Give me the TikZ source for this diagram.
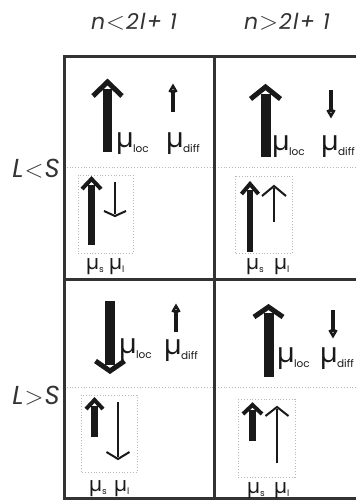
\documentclass[tikz,border=0pt]{standalone}
\usepackage{fontspec}
\setmainfont{Poppins}
\newfontfamily\headfont{Poppins}[LetterSpace=6]
\definecolor{ink}{gray}{0.1}
\definecolor{frame}{gray}{0.2}
\definecolor{dots}{gray}{0.72}
\newcommand{\mubig}[1]{{\fontsize{27}{27}\selectfont µ}\kern-0.5pt\raisebox{-5pt}{\fontsize{10.5}{10.5}\selectfont #1}}
\newcommand{\musmall}[1]{{\fontsize{20}{20}\selectfont µ}\raisebox{-3pt}{\fontsize{9}{9}\selectfont #1}}
\newcommand{\hrel}[1]{\kern1pt{\fontsize{24}{24}\selectfont $#1$}\kern1pt}
\newcommand{\rrel}[1]{\kern1pt{\fontsize{31}{31}\selectfont $#1$}\kern1pt}
% x, y start, y tip, shaft width, half head width, head length, head line width
\newcommand{\vecarr}[7]{%
  \pgfmathsetmacro{\vaS}{(#3>#2)?1:-1}%
  \pgfmathsetmacro{\vaB}{#3-\vaS*#6}%
  \pgfmathsetmacro{\vaE}{#3-\vaS*(#4/2*#6/#5+#7*0.5)}%
  \draw[ink, line width=#4] (#1,#2) -- (#1,\vaE);
  \draw[ink, line width=#7, line join=miter, miter limit=3] (#1-#5,\vaB) -- (#1,#3) -- (#1+#5,\vaB);
}
\begin{document}
\begin{tikzpicture}[x={(1pt,0)}, y={(0,-1pt)},
  gridline/.style={frame, line width=3pt},
  dotline/.style={dots, line width=0.8pt, dotted},
  lab/.style={inner sep=0pt, text=ink, anchor=base west},
  head/.style={inner sep=0pt, text=frame, font=\headfont\fontsize{22}{22}\selectfont\itshape},
  rowlab/.style={inner sep=0pt, text=frame, font=\headfont\fontsize{26}{26}\selectfont\itshape}]
\useasboundingbox[fill=white] (0,0) rectangle (356,501);
% headings
\node[head] (h1) at (134,22) {n\hrel{<}2l+ 1};
\node[head] (h2) at (287,22) {n\hrel{>}2l+ 1};
\node[rowlab] (r1) at (36,169) {L\rrel{<}S};
\node[rowlab] (r2) at (36,396) {L\rrel{>}S};
% dotted separators and boxes
\draw[dotline] (64,167) -- (356,167);
\draw[dotline] (64,387) -- (356,387);
\draw[dotline] (78,175) rectangle (133,253);
\draw[dotline] (235,176) rectangle (292,253);
\draw[dotline] (81,395) rectangle (137,472);
\draw[dotline] (238,399) rectangle (295,477);
% frame
\draw[gridline] (358,56) -- (64,56) -- (64,498) -- (358,498);
\draw[gridline] (214,56) -- (214,498);
\draw[gridline] (64,279) -- (358,279);
% top-left
\vecarr{107.5}{152}{82}{9}{14.5}{14}{5}
\vecarr{173}{112}{86}{3.5}{3.5}{6}{2.5}
\vecarr{91.5}{245}{179}{7}{9.5}{10}{4}
\vecarr{115}{182}{216}{2.5}{11}{5}{2}
\node[lab] (tlloc) at (116,147) {\mubig{loc}};
\node[lab] (tldiff) at (166,147) {\mubig{diff}};
\node[lab] (tls) at (86,269) {\musmall{s}};
\node[lab] (tll) at (109,269) {\musmall{l}};
% top-right
\vecarr{265.5}{157}{87}{10}{15}{12}{5}
\vecarr{331}{90}{116}{3.5}{3.5}{6}{2.5}
\vecarr{250}{252}{184}{6.5}{8.5}{10}{4}
\vecarr{274}{222}{186}{2.5}{12}{10}{2}
\node[lab] (trloc) at (272,150) {\mubig{loc}};
\node[lab] (trdiff) at (321,150) {\mubig{diff}};
\node[lab] (trs) at (246,269) {\musmall{s}};
\node[lab] (trl) at (274,269) {\musmall{l}};
% bottom-left
\vecarr{110}{301}{371}{10}{14.5}{10}{5}
\vecarr{176}{332}{306}{3.5}{3.5}{6}{2.5}
\vecarr{94.5}{437}{400}{7}{8.5}{9}{4}
\vecarr{118}{402}{459}{2.5}{11.5}{7}{2}
\node[lab] (blloc) at (119,353) {\mubig{loc}};
\node[lab] (bldiff) at (164,354) {\mubig{diff}};
\node[lab] (bls) at (89,491) {\musmall{s}};
\node[lab] (bll) at (114,491) {\musmall{l}};
% bottom-right
\vecarr{268.5}{377}{307}{10}{14.5}{10}{5}
\vecarr{333}{310}{336}{3.5}{3.5}{6}{2.5}
\vecarr{252.5}{441}{405}{7}{9.5}{9}{4}
\vecarr{277}{463}{407}{2.5}{11.5}{9}{2}
\node[lab] (brloc) at (277,362) {\mubig{loc}};
\node[lab] (brdiff) at (320,362) {\mubig{diff}};
\node[lab] (brs) at (247,493) {\musmall{s}};
\node[lab] (brl) at (274,493) {\musmall{l}};
\end{tikzpicture}
\end{document}
